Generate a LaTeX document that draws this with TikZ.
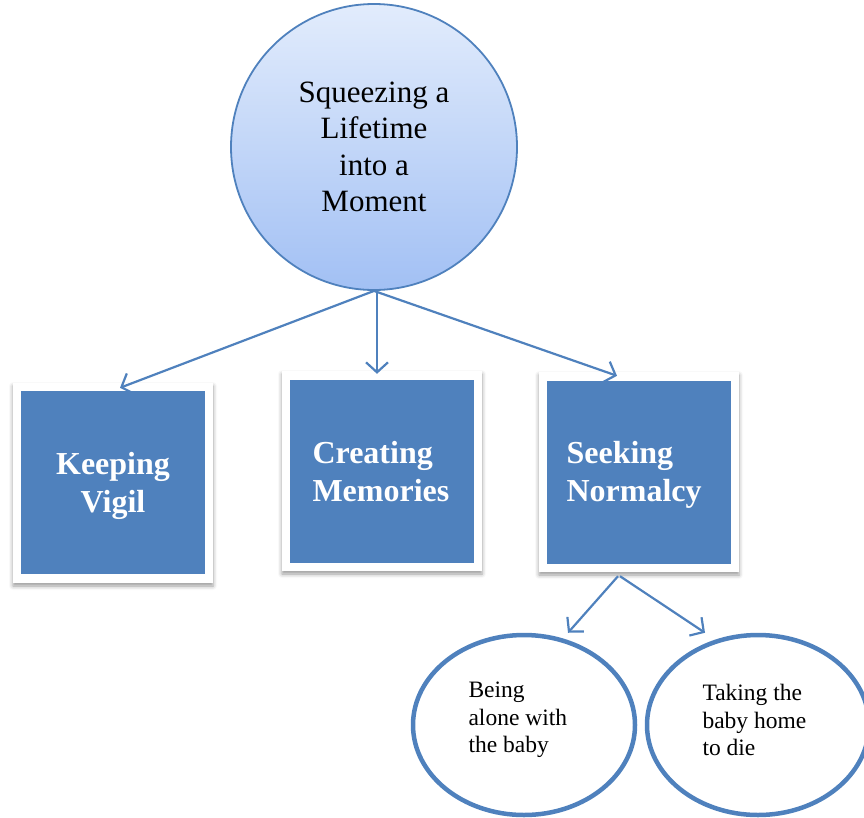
\documentclass[tikz,border=0pt]{standalone}
\usepackage{fontspec}
\setmainfont{Liberation Serif}
\usetikzlibrary{arrows.meta,shapes.geometric,shadows.blur,calc}
\definecolor{accent}{HTML}{4F81BD}
\definecolor{hubtop}{HTML}{E2ECFC}
\definecolor{hubbot}{HTML}{A2C0F4}
\tikzset{
  hub/.style={circle, draw=accent, line width=1.8pt, minimum size=286pt, inner sep=0pt,
    top color=hubtop, bottom color=hubbot, align=center,
    font=\fontsize{31}{36.5}\selectfont},
  frame/.style={rectangle, fill=white, minimum width=200pt, minimum height=200pt, inner sep=0pt,
    blur shadow={shadow xshift=0pt, shadow yshift=-3pt, shadow blur radius=4pt, shadow opacity=40}},
  theme/.style={rectangle, fill=accent, minimum width=184pt, minimum height=183pt, inner sep=0pt},
  themetext/.style={text=white, font=\bfseries\fontsize{32}{38}\selectfont, align=left},
  leaf/.style={ellipse, draw=accent, line width=4.5pt, minimum width=222pt, minimum height=180pt, inner sep=0pt},
  leaftext/.style={align=left, font=\fontsize{23.5}{27.5}\selectfont},
  link/.style={draw=accent, line width=2.2pt, -{Straight Barb[length=10pt,width=22pt]}}
}
\begin{document}
\begin{tikzpicture}[x=1pt,y=-1pt]
\useasboundingbox (0,0) rectangle (864,817);

% central theme
\node[hub] (hub) at (374,147) {Squeezing a\\Lifetime\\into a\\Moment};

% three sub-themes
\node[frame] (kvf) at (113,483) {};
\node[theme] (kv) at (113,482.5) {};
\node[themetext, align=center] at (113,486) {Keeping\\Vigil};

\node[frame] (cmf) at (382,471) {};
\node[theme] (cm) at (382,471) {};
\node[themetext, anchor=west] at (309,472) {Creating\\Memories};

\node[frame] (snf) at (639,472) {};
\node[theme] (sn) at (639,472) {};
\node[themetext, anchor=west] at (563,475) {Seeking\\Normalcy};

% leaves of "Seeking Normalcy"
\node[leaf] (al) at (524,725) {};
\node[leaftext, anchor=west] at (465,720) {Being\\alone with\\the baby};
\node[leaf] (th) at (758,725) {};
\node[leaftext, anchor=west] at (699,720) {Taking the\\baby home\\to die};

% connectors
\draw[link] (hub.south) -- ($(kvf.north)+(7,5)$);
\draw[link] ($(hub.south)+(3,0)$) -- ($(cmf.north)+(-5,3)$);
\draw[link] (hub.south) -- ($(snf.north)+(-22,4)$);
\draw[link] ($(snf.south)+(-21,4)$) -- ($(al.north)+(44,0)$);
\draw[link] ($(snf.south)+(-19,4)$) -- ($(th.north)+(-53,0)$);
\end{tikzpicture}
\end{document}
